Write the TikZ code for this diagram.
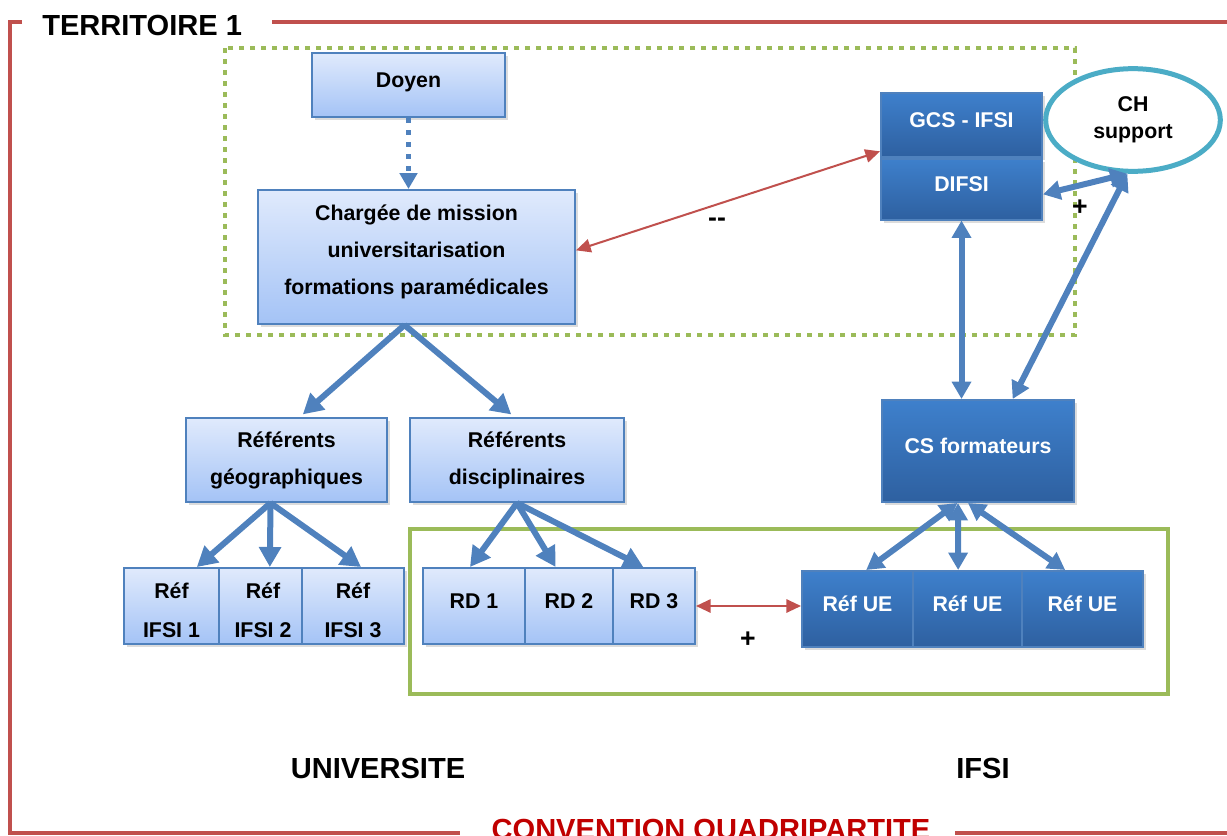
\documentclass[tikz,border=0pt]{standalone}
\usepackage{fontspec}
\setmainfont{Liberation Sans}
\usetikzlibrary{arrows.meta,shapes.geometric,shadows}

\definecolor{frameRed}{RGB}{192,80,77}
\definecolor{convRed}{RGB}{192,0,0}
\definecolor{zoneGreen}{RGB}{155,187,89}
\definecolor{linkBlue}{RGB}{79,129,189}
\definecolor{paleTop}{RGB}{224,234,252}
\definecolor{paleBot}{RGB}{164,195,246}
\definecolor{deepTop}{RGB}{62,128,204}
\definecolor{deepBot}{RGB}{46,96,160}
\definecolor{ringTeal}{RGB}{75,172,198}

\tikzset{
  boxfont/.style={font=\fontsize{16}{27.75}\selectfont\bfseries},
  box/.style={rectangle, inner sep=0pt, line width=1.5pt, draw=linkBlue, align=center,
    boxfont, drop shadow={opacity=0.28, shadow xshift=2pt, shadow yshift=-2.5pt}},
  palebox/.style={box, top color=paleTop, bottom color=paleBot},
  deepbox/.style={box, draw=linkBlue, top color=deepTop, bottom color=deepBot, text=white},
  oneline/.style={text height=11pt, text depth=7.4pt},
  boxtext/.style={inner sep=0pt, align=center, boxfont},
  wh/.style 2 args={minimum width=#1, minimum height=#2},
  bigtext/.style={inner sep=0pt, font=\fontsize{21.8}{26}\selectfont\bfseries},
  signtext/.style={inner sep=0pt, font=\fontsize{20}{24}\selectfont\bfseries},
  bluearrow/.style={draw=linkBlue, line width=4.5pt, -{Triangle[length=15pt,width=16pt]}},
  bluedouble/.style={draw=linkBlue, line width=4.5pt,
    {Triangle[length=13pt,width=14pt]}-{Triangle[length=13pt,width=14pt]}},
  reddouble/.style={draw=frameRed, line width=1.5pt,
    {Triangle[length=11pt,width=10pt]}-{Triangle[length=11pt,width=10pt]}},
  frameline/.style={draw=frameRed, line width=3pt},
}

\begin{document}
\begin{tikzpicture}[x=0.75pt,y=-0.75pt]
\useasboundingbox (0,0) rectangle (1227,835);

% outer territory frame
\draw[frameline] (22,22) -- (10,22) -- (10,833) -- (460,833);
\draw[frameline] (272,22) -- (1240,22);
\draw[frameline] (955,833) -- (1240,833);
\node[bigtext, anchor=base west] (title) at (42,35) {TERRITOIRE 1};
\node[bigtext, text=convRed, anchor=base] (conv) at (711,839) {CONVENTION QUADRIPARTITE};

% governance zone (dotted) and shared zone (solid)
\draw[zoneGreen, line width=3pt, dash pattern=on 3.75pt off 4.5pt] (225,48) rectangle (1075,335);
\draw[zoneGreen, line width=3pt] (410,529) rectangle (1168,694);

% university side
\node[palebox, oneline, wh={144.75pt}{48pt}] (doyen) at (408.5,85) {Doyen};
\node[palebox, wh={237.75pt}{100.5pt}] (charge) at (416.5,257) {};
\node[boxtext] (charge-text) at (416.5,252)
  {Chargée de mission\\universitarisation\\formations paramédicales};
\node[palebox, wh={150.75pt}{63pt}] (refgeo) at (286.5,460) {Référents\\géographiques};
\node[palebox, wh={160.5pt}{63pt}] (refdisc) at (517,460) {Référents\\disciplinaires};
\node[palebox, wh={71.25pt}{57pt}] (ifsi1) at (171.5,606) {};
\node[palebox, wh={62.25pt}{57pt}] (ifsi2) at (260.5,606) {};
\node[palebox, wh={76.5pt}{57pt}] (ifsi3) at (353,606) {};
\node[boxtext] (ifsi1-text) at (171.5,610) {Réf\\[1.5pt]IFSI 1};
\node[boxtext] (ifsi2-text) at (263,610) {Réf\\[1.5pt]IFSI 2};
\node[boxtext] (ifsi3-text) at (353,610) {Réf\\[1.5pt]IFSI 3};
\node[palebox, oneline, wh={76.5pt}{57pt}] (rd1) at (474,606) {RD 1};
\node[palebox, oneline, wh={66pt}{57pt}] (rd2) at (569,606) {RD 2};
\node[palebox, oneline, wh={61.5pt}{57pt}] (rd3) at (654,606) {RD 3};

% IFSI side
\node[deepbox, oneline, wh={120.75pt}{48pt}] (gcs) at (961.5,125) {GCS - IFSI};
\node[deepbox, oneline, wh={120.75pt}{45.75pt}] (difsi) at (961.5,189) {DIFSI};
\node[deepbox, oneline, wh={144pt}{76.5pt}] (cs) at (978,451) {CS formateurs};
\node[deepbox, oneline, wh={83.25pt}{57pt}] (ue1) at (857.5,609) {Réf UE};
\node[deepbox, oneline, wh={81.75pt}{57pt}] (ue2) at (967.5,609) {Réf UE};
\node[deepbox, oneline, wh={90.75pt}{57pt}] (ue3) at (1082.5,609) {Réf UE};
\node[ellipse, draw=ringTeal, line width=3.75pt, fill=white, inner sep=0pt,
  minimum width=131pt, minimum height=77pt, align=center,
  font=\fontsize{16}{20.25}\selectfont\bfseries] (ch) at (1133,120) {CH\\support};

% links
\draw[draw=linkBlue, line width=3.75pt, dash pattern=on 3.75pt off 5.25pt,
  -{Triangle[length=12pt,width=13pt]}] (doyen.south) -- (doyen.south |- charge.north);
\draw[reddouble] ([yshift=5pt]charge.east) -- ([yshift=5pt]gcs.south west);
\node[signtext] (minus) at (717,222) {-{}-};

\draw[bluedouble] ([yshift=-4pt]difsi.east) -- (ch.-96);
\node[signtext] (plusch) at (1080,208) {+};
\draw[bluedouble] (ch.-96) -- ([xshift=26pt]cs.north);
\draw[bluedouble] (difsi.south) -- (difsi.south |- cs.north);

\coordinate (chargebase) at ([xshift=-9pt]charge.south);
\draw[bluearrow, shorten >=3pt] (chargebase) -- ([xshift=10pt]refgeo.north);
\draw[bluearrow, shorten >=3pt] (chargebase) -- ([xshift=-2pt]refdisc.north);

\coordinate (geobase) at ([xshift=-12pt]refgeo.south);
\draw[bluearrow] (geobase) -- ([xshift=19pt]ifsi1.north);
\draw[bluearrow] (geobase) -- ([xshift=7pt]ifsi2.north);
\draw[bluearrow] (geobase) -- ([xshift=6pt]ifsi3.north);

\coordinate (discbase) at (refdisc.south);
\draw[bluearrow] (discbase) -- ([xshift=-3pt]rd1.north);
\draw[bluearrow] (discbase) -- ([xshift=-10pt]rd2.north);
\draw[bluearrow] (discbase) -- ([xshift=-8pt]rd3.north);

\draw[reddouble] (rd3.east) -- (rd3.east -| ue1.west);
\node[signtext] (plusue) at (748,640) {+};

\draw[bluedouble] ([xshift=-15.5pt]cs.south) -- ([xshift=6.5pt]ue1.north);
\draw[bluedouble] ([xshift=-15pt]cs.south) -- ([xshift=-7pt]ue2.north);
\draw[bluedouble] ([xshift=-7.5pt]cs.south) -- ([xshift=-13pt]ue3.north);

% side captions
\node[bigtext, anchor=base] (univ) at (378,778) {UNIVERSITE};
\node[bigtext, anchor=base] (ifsi) at (983,778) {IFSI};
\end{tikzpicture}
\end{document}
